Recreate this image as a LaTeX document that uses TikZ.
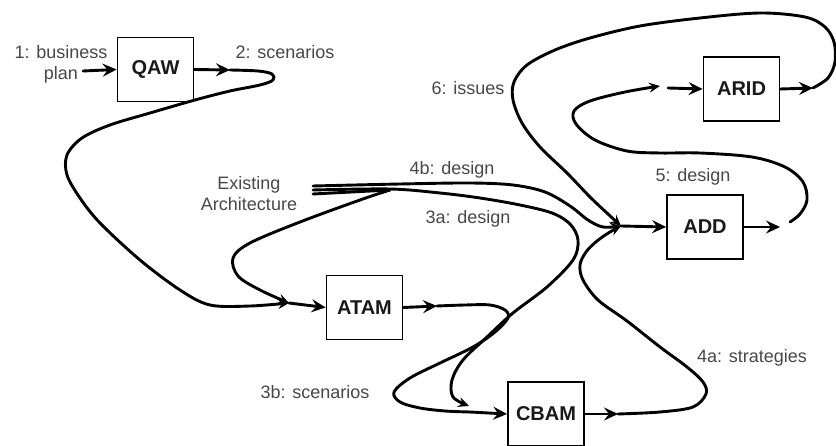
\documentclass[tikz,border=0pt]{standalone}
\usepackage{fontspec}
\setmainfont{Liberation Sans}
\usetikzlibrary{arrows.meta}
\definecolor{txtgray}{RGB}{72,72,72}
\definecolor{boxtxt}{RGB}{25,25,25}
\tikzset{
  procbox/.style={draw=black, line width=1.8pt, minimum width=76pt, minimum height=64pt, inner sep=0pt,
    font=\fontsize{20}{24}\selectfont\bfseries, text=boxtxt},
  lbl/.style={font=\fontsize{18}{21}\selectfont, text=txtgray, inner sep=0pt, align=center},
  curve/.style={line width=2.9pt, line cap=round, line join=round},
  arr/.style={curve, -{Stealth[length=14pt,width=13pt,inset=5pt]}},
  tipS/.style={-{Stealth[length=11pt,width=10pt,inset=4pt]}}
}
\begin{document}
\begin{tikzpicture}[x=1pt,y=-1pt]
\useasboundingbox[fill=white] (0,0) rectangle (836,446);

% boxes
\node[procbox] (qaw)  at (155.5,69.5) {QAW};
\node[procbox] (arid) at (741.5,89)   {ARID};
\node[procbox] (add)  at (705,227)    {ADD};
\node[procbox] (atam) at (364.5,307.5){ATAM};
\node[procbox] (cbam) at (546,414)    {CBAM};

% labels (multi-line: base anchor = last line's baseline)
\node[lbl, anchor=base] (bizplan) at (61,80) {1: business\\plan};
\node[lbl, anchor=base] (scen2)   at (285,59) {2: scenarios};
\node[lbl, anchor=base] (issues6) at (468,95) {6: issues};
\node[lbl, anchor=base] (exarch)  at (249,211) {Existing\\Architecture};
\node[lbl, anchor=base] (des4b)   at (452,175) {4b: design};
\node[lbl, anchor=base] (des3a)   at (468,224) {3a: design};
\node[lbl, anchor=base] (des5)    at (693,182) {5: design};
\node[lbl, anchor=base] (scen3b)  at (315,399) {3b: scenarios};
\node[lbl, anchor=base] (strat4a) at (752,363) {4a: strategies};

% junction / free-end coordinates
\coordinate (bp)  at (83,71);
\coordinate (s2)  at (230,70);
\coordinate (ja)  at (289,303);
\coordinate (e1)  at (313,186);
\coordinate (e2)  at (313,190);
\coordinate (e3)  at (313,194);
\coordinate (sp)  at (390,190);
\coordinate (s3b) at (437,306);
\coordinate (j3a) at (469,406);
\coordinate (jc)  at (470,412);
\coordinate (s4a) at (618,414);
\coordinate (jd)  at (621,226);
\coordinate (s5)  at (780,227);
\coordinate (s5b) at (790,222);
\coordinate (j5)  at (660,86);
\coordinate (j5b) at (668,88);
\coordinate (s6)  at (813,88);

% 1: business plan -> QAW
\draw[arr] (bp) -- (qaw.west);

% 2: scenarios  QAW -> ATAM
\draw[arr] (qaw.east) -- (s2);
\draw[curve, tipS] plot[smooth, tension=0.55] coordinates {(s2) (258,71) (272,74) (273,80) (260,85) (230,91) (195,100) (150,113) (110,125) (82,138) (67,155) (67,175) (80,198) (100,223) (140,260) (180,290) (210,305) (250,306) (ja)};

% Existing Architecture -> ATAM
\draw[curve] (e3) -- (sp);
\draw[curve, tipS] plot[smooth, tension=0.55] coordinates {(sp) (360,200) (300,222) (250,243) (233,258) (238,276) (260,290) (ja)};
\draw[arr] (ja) -- (atam.west);

% 4b: design  Existing -> ADD
\draw[curve, tipS] plot[smooth, tension=0.55] coordinates {(e1) (400,184) (470,183) (513,185) (545,192) (570,206) (588,220) (603,227) (jd)};

% 3a: design  Existing -> CBAM
\draw[curve, tipS] plot[smooth, tension=0.55] coordinates {(e2) (390,189) (440,193) (480,198) (520,205) (552,213) (570,224) (578,240) (573,260) (547,287) (513,313) (487,337) (463,360) (452,380) (453,397) (j3a)};

% 3b: scenarios  ATAM -> CBAM
\draw[arr] (atam.east) -- (s3b);
\draw[curve] plot[smooth, tension=0.55] coordinates {(s3b) (465,305) (490,305) (505,310) (508,318) (495,332) (473,347) (440,363) (410,378) (394,392) (400,402) (420,408) (445,411) (jc)};
\draw[arr] (jc) -- (cbam.west);

% 4a: strategies  CBAM -> ADD
\draw[arr] (cbam.east) -- (s4a);
\draw[curve, tipS] plot[smooth, tension=0.55] coordinates {(s4a) (660,412) (693,407) (706,394) (703,382) (687,367) (660,347) (627,321) (598,300) (583,280) (580,265) (586,252) (597,241) (610,232) (jd)};

% 6: issues  ARID -> ADD
\draw[arr] (arid.east) -- (s6);
\draw[curve, tipS] plot[smooth, tension=0.55] coordinates {(s6) (828,78) (835,62) (834,42) (825,27) (805,17) (760,13) (700,18) (640,26) (590,38) (555,50) (527,65) (514,82) (513,100) (522,123) (540,147) (567,173) (590,197) (608,214) (jd)};

% into ADD
\draw[arr] (jd) -- (add.west);

% 5: design  ADD -> ARID
\draw[arr] (add.east) -- (s5);
\draw[curve, tipS] plot[smooth, tension=0.55] coordinates {(s5b) (800,214) (807,200) (803,182) (785,167) (752,157) (700,153) (660,153) (627,151) (595,140) (576,124) (574,111) (590,101) (625,92) (j5)};
\draw[arr] (j5b) -- (arid.west);
\end{tikzpicture}
\end{document}
